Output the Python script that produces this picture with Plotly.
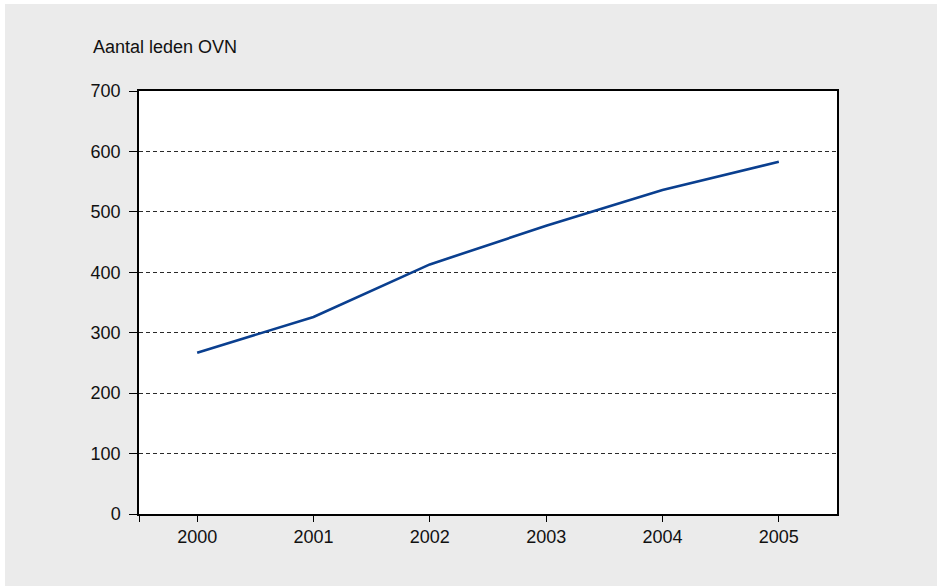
import plotly.graph_objects as go

years = ["2000", "2001", "2002", "2003", "2004", "2005"]
members = [267, 326, 413, 477, 536, 583]
y_ticks = [0, 100, 200, 300, 400, 500, 600, 700]
title_text = "Aantal leden OVN"

W, H = 937, 588
L, R, T, B = 139, 100, 91, 74
pw = W - L - R
ph = H - T - B

xpos = list(range(len(years)))

fig = go.Figure()
fig.add_trace(go.Scatter(
    x=xpos, y=members, mode="lines",
    line=dict(color="#0a3f8f", width=2.6),
    hoverinfo="skip", showlegend=False,
))

font = dict(family="Liberation Sans, Arial, sans-serif", size=18, color="#111111")

fig.update_layout(
    width=W, height=H,
    margin=dict(l=L, r=R, t=T, b=B),
    paper_bgcolor="#ebebeb",
    plot_bgcolor="#ffffff",
    font=font,
    xaxis=dict(
        range=[-0.5, len(years) - 0.5],
        tickvals=[-0.5] + xpos,
        ticktext=[""] + years,
        showgrid=False, zeroline=False,
        showline=True, linecolor="#000000", linewidth=1.5, mirror=True,
        ticks="outside", ticklen=6, tickcolor="#000000", tickwidth=1,
        tickfont=font,
        fixedrange=True,
    ),
    yaxis=dict(
        range=[0, 700],
        tickvals=y_ticks,
        showgrid=True, gridcolor="#2a2a2a", gridwidth=1, griddash="4px,3px",
        zeroline=False,
        showline=True, linecolor="#000000", linewidth=1.5, mirror=True,
        ticks="outside", ticklen=8, tickcolor="#000000", tickwidth=1,
        ticklabelstandoff=5,
        tickfont=font,
        fixedrange=True,
    ),
    annotations=[dict(
        text=title_text, xref="paper", yref="paper",
        x=(91 - L) / pw, y=(H - B - 47) / ph,
        xanchor="left", yanchor="middle", showarrow=False, font=font,
    )],
    shapes=[
        dict(type="rect", xref="paper", yref="paper", layer="above",
             x0=-1, x1=2, y0=(H - B - 4) / ph, y1=2,
             fillcolor="#ffffff", line=dict(width=0)),
        dict(type="rect", xref="paper", yref="paper", layer="above",
             x0=-1, x1=(5 - L) / pw, y0=-1, y1=2,
             fillcolor="#ffffff", line=dict(width=0)),
        dict(type="rect", xref="paper", yref="paper", layer="above",
             x0=-1, x1=2, y0=-1, y1=(H - B - 586) / ph,
             fillcolor="#ffffff", line=dict(width=0)),
    ],
)

fig.write_html("out.html", config={"displayModeBar": False},
               post_script="document.body.style.margin='0';")
